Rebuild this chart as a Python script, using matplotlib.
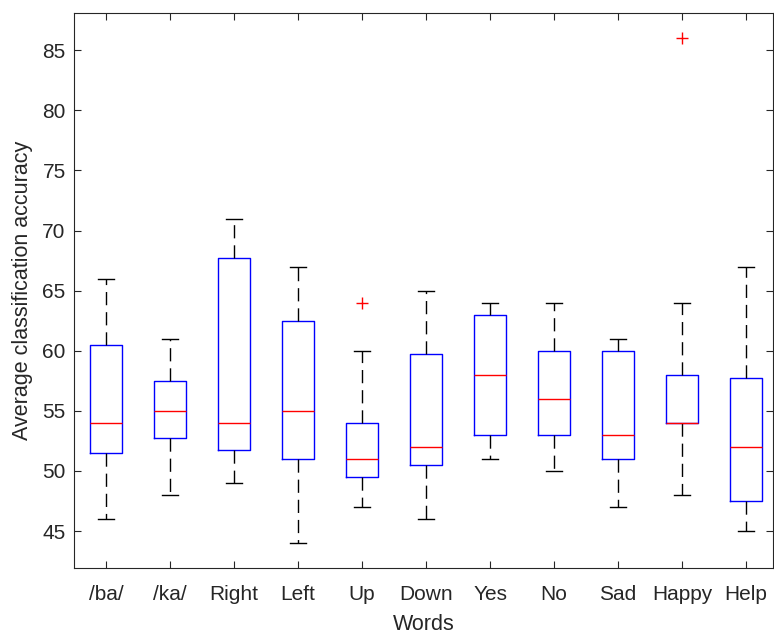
import matplotlib
matplotlib.use("Agg")
import matplotlib.pyplot as plt

# Per-word box statistics (classification accuracy, %)
words = ["/ba/", "/ka/", "Right", "Left", "Up", "Down", "Yes", "No", "Sad", "Happy", "Help"]
whisker_low = [46, 48, 49, 44, 47, 46, 51, 50, 47, 48, 45]
q1 = [51.5, 52.75, 51.75, 51, 49.5, 50.5, 53, 53, 51, 54, 47.5]
median = [54, 55, 54, 55, 51, 52, 58, 56, 53, 54, 52]
q3 = [60.5, 57.5, 67.75, 62.5, 54, 59.75, 63, 60, 60, 58, 57.75]
whisker_high = [66, 61, 71, 67, 60, 65, 64, 64, 61, 64, 67]
outliers = [[], [], [], [], [64], [], [], [], [], [86], []]

plt.rcParams["font.family"] = ["Liberation Sans", "DejaVu Sans"]

fig = plt.figure(figsize=(7.74, 6.35), dpi=100)
W, H = 774, 635
left, right, top, bottom = 74, 773, 13, 568.3
ax = fig.add_axes([left / W, (H - bottom) / H, (right - left) / W, (bottom - top) / H])

stats = []
for i, w in enumerate(words):
    stats.append(dict(label=w, whislo=whisker_low[i], q1=q1[i], med=median[i],
                      q3=q3[i], whishi=whisker_high[i], fliers=outliers[i]))

positions = list(range(1, len(words) + 1))
ax.bxp(stats, positions=positions, widths=0.5, capwidths=0.25,
       showfliers=True,
       boxprops=dict(color=(0, 0, 1), linewidth=1.0),
       medianprops=dict(color=(1, 0, 0), linewidth=1.0),
       whiskerprops=dict(color="black", linewidth=1.0, linestyle=(0, (9.5, 5))),
       capprops=dict(color="black", linewidth=1.0),
       flierprops=dict(marker="+", markeredgecolor=(1, 0, 0), markersize=9,
                       markeredgewidth=1.0, linestyle="none"))

ax.set_xlim(0.5, 11.42)
ax.set_ylim(41.9, 88.1)
ax.set_yticks([45, 50, 55, 60, 65, 70, 75, 80, 85])
ax.set_xticks(positions)
ax.set_xticklabels(words)

axis_col = (0.15, 0.15, 0.15)
for s in ax.spines.values():
    s.set_color(axis_col)
    s.set_linewidth(0.8)
ax.tick_params(direction="in", length=5, width=0.8, colors=axis_col,
               labelsize=15, top=True, right=True, pad=6)
ax.tick_params(axis="x", pad=12)

ax.set_xlabel("Words", fontsize=15.5, color=axis_col, labelpad=7)
ax.set_ylabel("Average classification accuracy", fontsize=15.5, color=axis_col, labelpad=7)

fig.savefig("out.png", dpi=100)
